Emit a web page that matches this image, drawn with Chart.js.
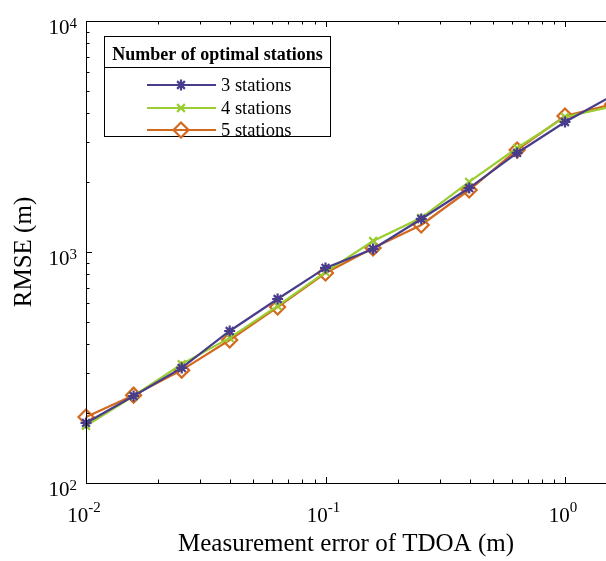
<!DOCTYPE html>
<html>
<head>
<meta charset="utf-8">
<script src="https://cdn.jsdelivr.net/npm/chart.js@4.4.1/dist/chart.umd.min.js"></script>
<style>
  html, body { margin: 0; padding: 0; background: #ffffff; overflow: hidden; }
  #wrap { width: 606px; height: 561px; }
  canvas { display: block; }
</style>
</head>
<body>
<div id="wrap"><canvas id="c" width="606" height="561"></canvas></div>
<script>
// ---- data ----
const errorTDOA = [0.01, 0.0158, 0.0251, 0.0398, 0.0631, 0.1, 0.158, 0.251, 0.398, 0.631, 1, 1.58];
const stations3 = [182, 238, 315, 455, 626, 853, 1031, 1390, 1892, 2684, 3654, 4750];
const stations4 = [177, 238, 327, 425, 584, 818, 1116, 1406, 2010, 2820, 3840, 4270];
const stations5 = [193, 240, 308, 416, 578, 811, 1040, 1309, 1855, 2766, 3880, 4360];
const seriesLabels = ['3 stations', '4 stations', '5 stations'];
const legendTitle = 'Number of optimal stations';
const xTitle = 'Measurement error of TDOA (m)';
const yTitle = 'RMSE (m)';
const xDecades = [-2, -1, 0];
const yDecades = [2, 3, 4];

const colors = ['#483D8B', '#9ACD32', '#D2691E'];
const styles = ['star', 'crossRot', 'rectRot'];
const radii = [5.5, 5.5, 7.5];

function pts(ys) { return errorTDOA.map((x, i) => ({x: x, y: ys[i]})); }
const seriesData = [stations3, stations4, stations5];

const datasets = seriesData.map((d, i) => ({
  label: seriesLabels[i],
  data: pts(d),
  borderColor: colors[i],
  backgroundColor: 'rgba(0,0,0,0)',
  pointBorderColor: colors[i],
  pointBackgroundColor: 'rgba(0,0,0,0)',
  pointStyle: styles[i],
  pointRadius: radii[i],
  pointBorderWidth: 2.2,
  borderWidth: 2.2,
  tension: 0,
  clip: false
}));

const SERIF = '"Liberation Serif", "Times New Roman", serif';

function drawMarker(ctx, style, x, y, r, color) {
  ctx.save();
  ctx.strokeStyle = color;
  ctx.lineWidth = 2.2;
  ctx.beginPath();
  if (style === 'star') {
    ctx.moveTo(x - r, y); ctx.lineTo(x + r, y);
    ctx.moveTo(x, y - r); ctx.lineTo(x, y + r);
    const d = r * Math.SQRT1_2;
    ctx.moveTo(x - d, y - d); ctx.lineTo(x + d, y + d);
    ctx.moveTo(x - d, y + d); ctx.lineTo(x + d, y - d);
  } else if (style === 'crossRot') {
    const d = r * Math.SQRT1_2;
    ctx.moveTo(x - d, y - d); ctx.lineTo(x + d, y + d);
    ctx.moveTo(x - d, y + d); ctx.lineTo(x + d, y - d);
  } else {
    ctx.moveTo(x, y - r); ctx.lineTo(x + r, y); ctx.lineTo(x, y + r); ctx.lineTo(x - r, y); ctx.closePath();
  }
  ctx.stroke();
  ctx.restore();
}

function isNice(v) {
  const e = Math.floor(Math.log10(v) + 1e-9);
  const m = v / Math.pow(10, e);
  return Math.abs(m - Math.round(m)) < 1e-6 && Math.round(m) >= 1 && Math.round(m) <= 9;
}
function isDecade(v) {
  const l = Math.log10(v);
  return Math.abs(l - Math.round(l)) < 1e-6;
}

const axesPlugin = {
  id: 'axesPlugin',
  afterDraw(chart) {
    const ctx = chart.ctx;
    const a = chart.chartArea;
    const xs = chart.scales.x, ys = chart.scales.y;
    ctx.save();
    ctx.strokeStyle = '#000';
    ctx.lineWidth = 1;
    // axis lines
    ctx.beginPath();
    ctx.moveTo(a.left + 0.5, a.top + 0.5); ctx.lineTo(a.left + 0.5, a.bottom + 0.5);
    ctx.moveTo(a.left, a.bottom + 0.5); ctx.lineTo(a.right, a.bottom + 0.5);
    ctx.moveTo(a.left, a.top + 0.5); ctx.lineTo(a.right, a.top + 0.5);
    ctx.stroke();
    // ticks (inward)
    ctx.beginPath();
    xs.ticks.forEach(t => {
      if (!isNice(t.value)) return;
      const px = Math.round(xs.getPixelForValue(t.value)) + 0.5;
      if (px < a.left || px > a.right) return;
      const len = isDecade(t.value) ? 6 : 3.5;
      ctx.moveTo(px, a.bottom); ctx.lineTo(px, a.bottom - len);
      ctx.moveTo(px, a.top); ctx.lineTo(px, a.top + len);
    });
    ys.ticks.forEach(t => {
      if (!isNice(t.value)) return;
      const py = Math.round(ys.getPixelForValue(t.value)) + 0.5;
      const len = isDecade(t.value) ? 6 : 3.5;
      ctx.moveTo(a.left, py); ctx.lineTo(a.left + len, py);
    });
    ctx.stroke();

    // tick labels with superscripts
    ctx.fillStyle = '#000';
    ctx.textBaseline = 'alphabetic';
    const baseFont = '21px ' + SERIF, expFont = '15px ' + SERIF;
    xDecades.forEach(e => {
      const px = xs.getPixelForValue(Math.pow(10, e));
      ctx.font = baseFont; const wb = ctx.measureText('10').width;
      ctx.font = expFont; const we = ctx.measureText(String(e)).width;
      const x0 = px - (wb + we) / 2 - 2;
      ctx.font = baseFont; ctx.textAlign = 'left';
      ctx.fillText('10', x0, a.bottom + 39);
      ctx.font = expFont;
      ctx.fillText(String(e), x0 + wb, a.bottom + 29);
    });
    yDecades.forEach(e => {
      const py = ys.getPixelForValue(Math.pow(10, e));
      ctx.font = baseFont; const wb = ctx.measureText('10').width;
      ctx.font = expFont; const we = ctx.measureText(String(e)).width;
      const x1 = a.left - 9;
      const x0 = x1 - we - wb;
      ctx.font = baseFont; ctx.textAlign = 'left';
      ctx.fillText('10', x0, py + 13);
      ctx.font = expFont;
      ctx.fillText(String(e), x0 + wb, py + 7);
    });

    // legend
    const L = 104.5, T = 36.5, R = 330.5, B = 136.5, SEP = 67.5;
    ctx.fillStyle = '#fff';
    ctx.fillRect(L, T, R - L, B - T);
    ctx.strokeStyle = '#000';
    ctx.lineWidth = 1;
    ctx.strokeRect(L, T, R - L, B - T);
    ctx.beginPath(); ctx.moveTo(L, SEP); ctx.lineTo(R, SEP); ctx.stroke();
    ctx.fillStyle = '#000';
    ctx.font = 'bold 18px ' + SERIF;
    ctx.textAlign = 'center';
    ctx.textBaseline = 'alphabetic';
    ctx.fillText(legendTitle, (L + R) / 2, 60);
    const rows = [85, 108, 130];
    chart.data.datasets.forEach((ds, i) => {
      const y = rows[i];
      ctx.strokeStyle = ds.borderColor; ctx.lineWidth = 2.2;
      ctx.beginPath(); ctx.moveTo(147, y); ctx.lineTo(216, y); ctx.stroke();
      drawMarker(ctx, ds.pointStyle, 181, y, ds.pointRadius, ds.borderColor);
      ctx.fillStyle = '#000';
      ctx.font = '18.5px ' + SERIF;
      ctx.textAlign = 'left';
      ctx.textBaseline = 'middle';
      ctx.fillText(ds.label, 221, y + 1);
    });
    ctx.restore();
  }
};

const xMax = Math.pow(10, -2 + 520 / 239.5);

new Chart(document.getElementById('c'), {
  type: 'line',
  data: { datasets: datasets },
  options: {
    responsive: false,
    animation: false,
    devicePixelRatio: 1,
    layout: { autoPadding: false, padding: { top: 21, right: 0, left: 0, bottom: 0 } },
    plugins: { legend: { display: false }, tooltip: { enabled: false } },
    scales: {
      x: {
        type: 'logarithmic',
        min: 0.01,
        max: xMax,
        grid: { display: false, drawTicks: false },
        border: { display: false },
        ticks: { display: false },
        title: {
          display: true, text: xTitle, color: '#000',
          font: { family: SERIF, size: 25, lineHeight: 1 },
          padding: { top: 0, bottom: 4 }
        },
        afterFit(s) { s.height = 78; }
      },
      y: {
        type: 'logarithmic',
        min: 100,
        max: 10000,
        grid: { display: false, drawTicks: false },
        border: { display: false },
        ticks: { display: false },
        title: {
          display: true, text: yTitle, color: '#000',
          font: { family: SERIF, size: 25, lineHeight: 1 },
          padding: { top: 12, bottom: 0 }
        },
        afterFit(s) { s.width = 86; }
      }
    }
  },
  plugins: [axesPlugin]
});
</script>
</body>
</html>
